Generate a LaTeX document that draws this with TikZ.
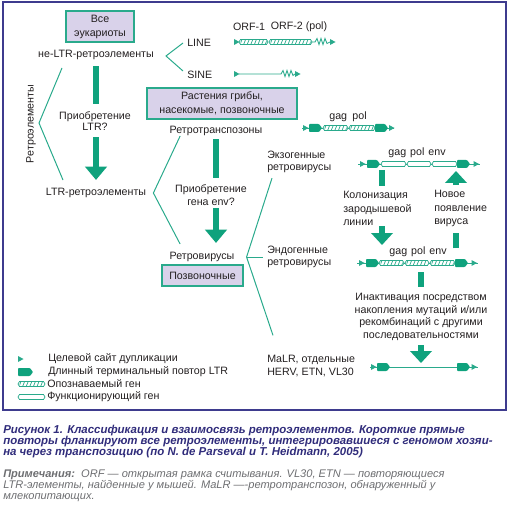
\documentclass[tikz,border=0pt]{standalone}
\usepackage{fontspec}
\setmainfont{Liberation Sans}
\usetikzlibrary{arrows.meta}
\definecolor{txt}{HTML}{231F20}
\definecolor{teal1}{HTML}{2AAA8C}
\definecolor{agreen}{HTML}{0FA27D}
\definecolor{lav}{HTML}{D9D2EA}
\definecolor{framec}{HTML}{3E3B8E}
\definecolor{capc}{HTML}{302C7B}
\definecolor{notec}{HTML}{6D6E71}
\newcommand{\tsdtri}[2]{\fill[teal1] (#1,#2-3) -- (#1+5.5,#2) -- (#1,#2+3) -- cycle;}
\newcommand{\ltrshape}[2]{\fill[agreen, rounded corners=0.6pt] (#1,#2-4) -- (#1+10,#2-4) -- (#1+13,#2) -- (#1+10,#2+4) -- (#1,#2+4) -- cycle;}
\newcommand{\openseg}[3]{\draw[teal1, line width=0.55pt, fill=white] (#1,#3) -- (#1+1.5,#3-2.5) -- (#2-1.5,#3-2.5) -- (#2,#3) -- (#2-1.5,#3+2.5) -- (#1+1.5,#3+2.5) -- cycle;}
\newcommand{\hatchseg}[3]{\openseg{#1}{#2}{#3}
  \begin{scope}
    \clip (#1+1.5,#3-2.5) rectangle (#2-1.5,#3+2.5);
    \foreach \k in {0,...,25} {\draw[teal1, line width=0.5pt] (#1+1+\k*3.6,#3+2.5) -- (#1+3+\k*3.6,#3-2.5);}
  \end{scope}}
\begin{document}
\begin{tikzpicture}[x=0.75pt,y=-0.75pt,
  lbl/.style={font=\fontsize{8}{9.75}\selectfont, text=txt, inner sep=0pt},
  taxbox/.style={draw=teal1, fill=lav, line width=1.1pt, inner sep=0pt, text=txt},
  fork/.style={draw=teal1, line width=0.75pt},
  thinl/.style={draw=teal1, line width=0.65pt},
  gbar/.style={draw=agreen, line width=5.2pt},
  garrow/.style={draw=agreen, line width=5.2pt, -{Triangle[width=16pt,length=10pt]}},
  sbar/.style={draw=agreen, line width=4.5pt},
  sarrow/.style={draw=agreen, line width=4.5pt, -{Triangle[width=16pt,length=9pt]}}
]
\useasboundingbox (0,0) rectangle (510,513);
\draw[framec, line width=1.5pt] (3,2) rectangle (506,410);

% taxonomic boxes
\node[taxbox, minimum width=51pt, minimum height=23.25pt, align=center,
  font=\fontsize{8}{10.5}\selectfont] (allbox) at (100,26.5) {Все\\эукариоты};
\node[taxbox, minimum width=112.5pt, minimum height=23.25pt, align=center,
  font=\fontsize{8}{10.5}\selectfont] (plantbox) at (222,103.5) {Растения грибы,\\насекомые, позвоночные};
\node[taxbox, minimum width=60.75pt, minimum height=15.75pt,
  font=\fontsize{8}{9.75}\selectfont] (vertbox) at (202.5,275.5) {Позвоночные};

% main labels
\node[lbl] (nonltr) at (96,55) {не-LTR-ретроэлементы};
\node[lbl, anchor=west] (line) at (187,43) {LINE};
\node[lbl, anchor=west] (sine) at (187,75) {SINE};
\node[lbl] (orfa) at (249,27) {ORF-1};
\node[lbl] (orfb) at (299,27) {ORF-2 (pol)};
\node[lbl] (ltr) at (96,193) {LTR-ретроэлементы};
\node[lbl] (retrotr) at (216,131) {Ретротранспозоны};
\node[lbl] (retrovir) at (202,257) {Ретровирусы};
\node[lbl, rotate=90] (retlbl) at (31,124) {Ретроэлементы};
\node[lbl, align=left, anchor=west, font=\fontsize{8}{9}\selectfont] (exo) at (267,162) {Экзогенные\\ретровирусы};
\node[lbl, align=left, anchor=west, font=\fontsize{8}{9}\selectfont] (endo) at (267,257) {Эндогенные\\ретровирусы};
\node[lbl, align=left, anchor=west] (malr) at (267,366.5) {MaLR, отдельные\\HERV, ETN, VL30};
\node[lbl, align=center, font=\fontsize{8}{8.8}\selectfont] (q1) at (95,121) {Приобретение\\LTR?};
\node[lbl, align=center, font=\fontsize{8}{10}\selectfont] (q2) at (211,195) {Приобретение\\гена env?};
\node[lbl, align=left, anchor=west, font=\fontsize{8}{10}\selectfont] (colon) at (343,208.5) {Колонизация\\зародышевой\\линии};
\node[lbl, align=left, anchor=west, font=\fontsize{8}{10}\selectfont] (newvir) at (434,208.5) {Новое\\появление\\вируса};
\node[lbl, align=center, font=\fontsize{8}{9.5}\selectfont] (inact) at (421,317) {Инактивация посредством\\накопления мутаций и/или\\рекомбинаций с другими\\последовательностями};
\node[lbl] (gagA) at (348,117) {gag\hspace{4pt}pol};
\node[lbl] (gagB) at (417,153) {gag\hspace{3pt}pol\hspace{3pt}env};
\node[lbl] (gagC) at (418,252) {gag\hspace{3pt}pol\hspace{3pt}env};

% forks and bracket
\coordinate (fk1) at (166,56);
\draw[fork] ([xshift=-3pt]line.west) -- (fk1) -- ([xshift=-3pt,yshift=3pt]sine.west);
\coordinate (rb1) at (62,68);
\coordinate (rb2) at (39,123);
\coordinate (rb3) at (63,180);
\draw[fork] (rb1) -- (rb2) -- (rb3);
\coordinate (fk2) at ([xshift=5.25pt]ltr.east);
\draw[fork] ([xshift=8pt]retrotr.south west) -- (fk2) -- ([xshift=8pt,yshift=6pt]retrovir.north west);
\coordinate (fk3) at ([xshift=9pt]retrovir.east);
\draw[fork] ([xshift=3.75pt,yshift=-3.75pt]exo.south west) -- (fk3) -- ([xshift=4.5pt,yshift=15pt]malr.north west);
\draw[fork] (fk3) -- ([xshift=-3pt]endo.west);

% gene elements: LINE
\tsdtri{234}{42}
\hatchseg{239}{268}{42}
\hatchseg{269}{312}{42}
\draw[thinl] (312,42) -- (315,42) -- (317,38.5) -- (319,44.5) -- (321,38.5) -- (323,44.5) -- (325,38.5) -- (327,43.5) -- (330,42);
\tsdtri{330}{42}
% SINE
\tsdtri{234}{74}
\draw[thinl] (239,74) -- (278,74) -- (281,74) -- (283,70.5) -- (285,76.5) -- (287,70.5) -- (289,76.5) -- (291,70.5) -- (293,75.5) -- (295,74);
\tsdtri{295}{74}
% retrotransposon
\draw[thinl] (302,128) -- (394,128);
\tsdtri{303}{128}
\ltrshape{309}{128}
\hatchseg{323}{348}{128}
\hatchseg{349}{375}{128}
\ltrshape{375}{128}
\tsdtri{389}{128}
% exogenous retrovirus
\draw[thinl] (358,164) -- (480,164);
\tsdtri{360}{164}
\ltrshape{367}{164}
\openseg{381}{406}{164}
\openseg{407}{431}{164}
\openseg{432}{457}{164}
\ltrshape{457}{164}
\tsdtri{473.5}{164}
\coordinate (exoL) at (382,164);
\coordinate (exoR) at (456,164);
% endogenous retrovirus
\draw[thinl] (357,263) -- (478,263);
\tsdtri{359}{263}
\ltrshape{366}{263}
\hatchseg{379}{404}{263}
\hatchseg{405}{429}{263}
\hatchseg{430}{455}{263}
\ltrshape{455}{263}
\tsdtri{471.5}{263}
\coordinate (endoL) at (382,263);
\coordinate (endoR) at (456,263);
\coordinate (endoM) at (421,263);
% MaLR
\draw[thinl] (370,367) -- (478,367);
\tsdtri{371}{367}
\ltrshape{377}{367}
\ltrshape{457}{367}
\tsdtri{471.5}{367}
\coordinate (malrM) at (421,367);

% big green arrows
\draw[gbar, shorten <=4.5pt, shorten >=5.25pt] (nonltr.south) -- (nonltr.south |- q1.north);
\draw[garrow, shorten <=4.5pt, shorten >=6pt] (q1.south -| nonltr.south) -- (nonltr.south |- ltr.north);
\draw[gbar, shorten <=2.25pt, shorten >=4.5pt] (retrotr.south) -- (retrotr.south |- q2.north);
\draw[garrow, shorten <=1.5pt, shorten >=6.75pt] (retrotr.south |- q2.south) -- (retrotr.south |- retrovir.north);
\draw[sbar, shorten <=4.5pt, shorten >=3.75pt] (exoL) -- (exoL |- colon.north);
\draw[sarrow, shorten <=0.3pt, shorten >=13.5pt] (exoL |- colon.south) -- (endoL);
\draw[sbar, shorten <=11pt, shorten >=4.5pt] (endoR) -- (endoR |- newvir.south);
\draw[sarrow, shorten <=3.75pt, shorten >=5.25pt] (endoR |- newvir.north) -- (exoR);
\draw[sbar, shorten <=6.75pt, shorten >=4.5pt] (endoM) -- (endoM |- inact.north);
\draw[sarrow, shorten <=3pt, shorten >=3pt] (endoM |- inact.south) -- (malrM);

% legend
\tsdtri{18}{359}
\fill[agreen, rounded corners=0.6pt] (18,368) -- (30,368) -- (33,372) -- (30,376) -- (18,376) -- cycle;
\hatchseg{18}{45}{384}
\openseg{18}{45}{397}
\node[lbl, anchor=west] (leg1) at (48,359) {Целевой сайт дупликации};
\node[lbl, anchor=west] (leg2) at (48,372) {Длинный терминальный повтор LTR};
\node[lbl, anchor=west] (leg3) at (47,384) {Опознаваемый ген};
\node[lbl, anchor=west] (leg4) at (47,397) {Функционирующий ген};

% caption and notes
\node[inner sep=0pt, anchor=west, align=left, text=capc,
  font=\fontsize{8.6}{8.6}\selectfont\bfseries\itshape] (caption) at (3,441.5)
  {Рисунок 1. Классификация и взаимосвязь ретроэлементов. Короткие прямые\\
   повторы фланкируют все ретроэлементы, интегрировавшиеся с геномом хозяи-\\
   на через транспозицию (по N. de Parseval и T. Heidmann, 2005)};
\node[inner sep=0pt, anchor=west, align=left, text=notec,
  font=\fontsize{8.3}{8.25}\selectfont\itshape] (notes) at (3,486)
  {\textbf{Примечания:}\ \ ORF — открытая рамка считывания. VL30, ETN — повторяющиеся\\
   LTR-элементы, найденные у мышей. MaLR —-ретротранспозон, обнаруженный у\\
   млекопитающих.};
\end{tikzpicture}
\end{document}
